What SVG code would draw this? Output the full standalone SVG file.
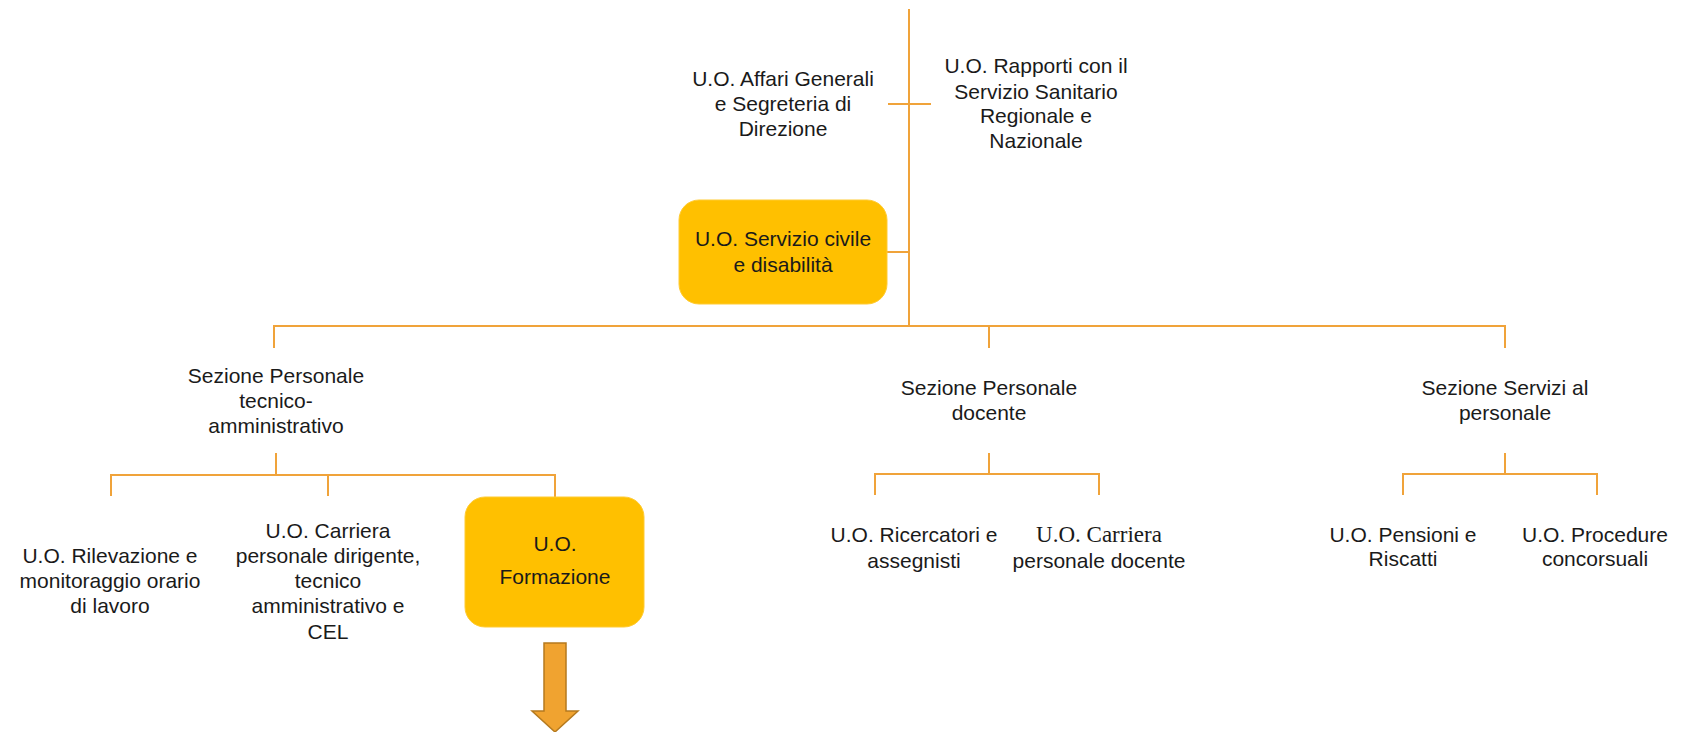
<svg xmlns="http://www.w3.org/2000/svg" width="1686" height="732" viewBox="0 0 1686 732">
<style>
.ln{stroke:#F0A33A;stroke-width:2;fill:none}
.t{font-family:"Liberation Sans",Arial,sans-serif;font-size:21px;fill:#1a1a1a;text-anchor:middle}
.box{fill:#FFC000;stroke:#FFCB33;stroke-width:1}
.serif{font-family:"Liberation Serif","Times New Roman",serif;font-size:23px}
</style>
<rect width="1686" height="732" fill="#ffffff"/>
<g id="connectors">
<path class="ln" d="M909 9V326"/>
<path class="ln" d="M888 104H931"/>
<path class="ln" d="M887 252H909"/>
<path class="ln" d="M274 348V326H1505V348"/>
<path class="ln" d="M989 326V348"/>
<path class="ln" d="M276 453V475"/>
<path class="ln" d="M111 496V475H555V497"/>
<path class="ln" d="M328 475V496"/>
<path class="ln" d="M989 453V474"/>
<path class="ln" d="M875 495V474H1099V495"/>
<path class="ln" d="M1505 453V474"/>
<path class="ln" d="M1403 495V474H1597V495"/>
<path d="M544 643H566V711H578L555 732L532 711H544Z" fill="#F0A330" stroke="#B57A1E" stroke-width="1.5"/>
</g>
<g id="n-affari"><text class="t" x="783" y="86">U.O. Affari Generali</text><text class="t" x="783" y="111">e Segreteria di</text><text class="t" x="783" y="136">Direzione</text></g>
<g id="n-rapporti"><text class="t" x="1036" y="73">U.O. Rapporti con il</text><text class="t" x="1036" y="99">Servizio Sanitario</text><text class="t" x="1036" y="123">Regionale e</text><text class="t" x="1036" y="148">Nazionale</text></g>
<g id="n-servizio"><rect class="box" x="679" y="200" width="208" height="104" rx="20"/><text class="t" x="783" y="246">U.O. Servizio civile</text><text class="t" x="783" y="272">e disabilità</text></g>
<g id="n-sez-tecnico"><text class="t" x="276" y="383">Sezione Personale</text><text class="t" x="276" y="408">tecnico-</text><text class="t" x="276" y="433">amministrativo</text></g>
<g id="n-sez-docente"><text class="t" x="989" y="395">Sezione Personale</text><text class="t" x="989" y="420">docente</text></g>
<g id="n-sez-servizi"><text class="t" x="1505" y="395">Sezione Servizi al</text><text class="t" x="1505" y="420">personale</text></g>
<g id="n-rilevazione"><text class="t" x="110" y="563">U.O. Rilevazione e</text><text class="t" x="110" y="588">monitoraggio orario</text><text class="t" x="110" y="613">di lavoro</text></g>
<g id="n-carriera-tec"><text class="t" x="328" y="538">U.O. Carriera</text><text class="t" x="328" y="563">personale dirigente,</text><text class="t" x="328" y="588">tecnico</text><text class="t" x="328" y="613">amministrativo e</text><text class="t" x="328" y="639">CEL</text></g>
<g id="n-formazione"><rect class="box" x="465" y="497" width="179" height="130" rx="20"/><text class="t" x="555" y="551">U.O.</text><text class="t" x="555" y="584">Formazione</text></g>
<g id="n-ricercatori"><text class="t" x="914" y="542">U.O. Ricercatori e</text><text class="t" x="914" y="568">assegnisti</text></g>
<g id="n-carriera-doc"><text class="t serif" x="1099" y="542">U.O. Carriera</text><text class="t" x="1099" y="568">personale docente</text></g>
<g id="n-pensioni"><text class="t" x="1403" y="542">U.O. Pensioni e</text><text class="t" x="1403" y="566">Riscatti</text></g>
<g id="n-procedure"><text class="t" x="1595" y="542">U.O. Procedure</text><text class="t" x="1595" y="566">concorsuali</text></g>
</svg>
